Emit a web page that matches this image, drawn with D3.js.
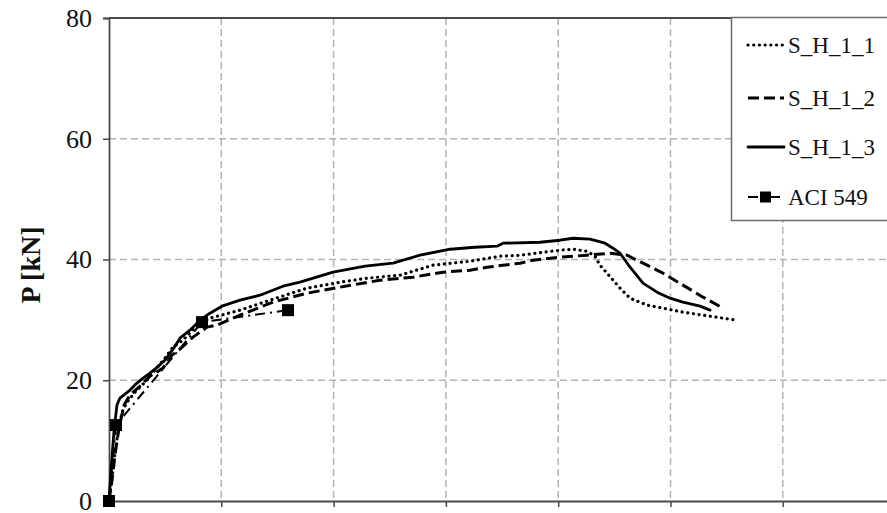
<!DOCTYPE html>
<html><head><meta charset="utf-8">
<script src="https://cdn.jsdelivr.net/npm/d3@7"></script>
<style>body{margin:0;background:#fff}svg{display:block}</style>
</head><body>
<svg id="c" width="887" height="513"></svg>
<script>
// deflection (mm) vs load P (kN)
const yTicks = [0, 20, 40, 60, 80];
const xTicks = [0, 10, 20, 30, 40, 50, 60, 70];
const seriesNames = ["S_H_1_1", "S_H_1_2", "S_H_1_3", "ACI 549"];

const s1x = [0,0.18,0.45,0.80,1.16,1.60,2.32,3.21,4.10,4.99,5.70,6.59,7.84,8.99,11.67,14.34,17.63,20.57,22.97,25.91,28.85,32.15,34.82,36.60,40.16,41.32,42.56,43.28,43.72,44.35,45.51,46.40,47.91,49.33,51.11,52.90,54.68,55.92];
const s1y = [0,2.65,6.79,11.42,14.73,16.38,18.04,19.69,21.68,23.67,25.49,26.64,29.13,30.28,31.61,33.26,35.25,36.24,36.90,37.40,39.06,39.72,40.54,40.71,41.54,41.70,41.37,40.54,39.06,37.73,35.25,33.59,32.44,31.94,31.28,30.78,30.28,29.95];

const s2x = [0,0.27,0.53,0.89,1.34,1.87,2.76,3.65,4.81,5.61,6.32,7.48,8.73,9.62,11.67,14.60,17.63,20.57,24.13,27.07,29.74,32.15,33.66,36.60,37.76,40.16,42.56,44.61,46.13,47.55,49.33,51.11,52.90,54.68];
const s2y = [0,3.48,7.61,12.08,15.89,17.54,19.03,20.69,22.01,24.16,25.15,27.14,28.80,29.13,30.78,32.93,34.42,35.42,36.57,37.07,37.90,38.23,38.72,39.39,39.88,40.38,40.71,41.04,40.71,39.39,37.73,35.75,33.76,31.94];

const s3x = [0,0.18,0.45,0.71,0.98,1.42,1.87,2.49,3.03,3.65,4.19,4.99,5.70,6.32,7.21,8.10,8.99,10.06,11.67,13.45,15.50,17.01,19.95,22.80,25.29,27.69,30.37,32.59,34.55,35.09,38.38,40.16,41.32,42.83,44.17,44.88,45.51,46.40,47.55,48.80,49.96,51.11,52.63,53.52];
const s3y = [0,5.13,11.75,15.89,17.05,17.71,18.37,19.53,20.36,21.18,22.01,23.33,25.15,26.97,28.30,29.95,31.11,32.27,33.26,34.09,35.58,36.24,37.90,38.89,39.39,40.71,41.70,42.03,42.20,42.70,42.86,43.19,43.52,43.36,42.70,41.87,41.04,38.72,36.08,34.59,33.59,32.93,32.27,31.61];

const acix = [0, 0.62, 8.28, 15.94];
const aciy = [0, 12.58, 29.62, 31.61];

const svg = d3.select("#c");
const x = d3.scaleLinear().domain([0, 70]).range([109, 109 + 7 * 112.3]);
const y = d3.scaleLinear().domain([0, 80]).range([501, 18]);

const gridCol = "#b3b3b3";
// grid
svg.append("g").selectAll("line").data(yTicks.filter(d => d > 0 && d < 80)).join("line")
  .attr("x1", 109).attr("x2", 887).attr("y1", d => y(d)).attr("y2", d => y(d))
  .attr("stroke", gridCol).attr("stroke-width", 1.5).attr("stroke-dasharray", "7,4");
svg.append("g").selectAll("line").data(xTicks.filter(d => d > 0)).join("line")
  .attr("y1", 18).attr("y2", 501).attr("x1", d => x(d)).attr("x2", d => x(d))
  .attr("stroke", gridCol).attr("stroke-width", 1.5).attr("stroke-dasharray", "7,4");

// axes
const axCol = "#4a4a4a";
const yAxis = svg.append("g").attr("transform", "translate(109,0)")
  .call(d3.axisLeft(y).tickValues(yTicks).tickSize(6).tickPadding(11));
yAxis.select(".domain").attr("stroke", axCol).attr("stroke-width", 1.8);
yAxis.selectAll(".tick line").attr("stroke", axCol).attr("stroke-width", 1.5);
yAxis.selectAll("text").attr("font-family", "Liberation Serif, serif").attr("font-size", 26).attr("fill", "#111");

const xAxis = svg.append("g").attr("transform", "translate(0,501)")
  .call(d3.axisBottom(x).tickValues(xTicks).tickSize(6).tickFormat(""));
xAxis.select(".domain").attr("stroke", axCol).attr("stroke-width", 1.8);
xAxis.selectAll(".tick line").attr("stroke", axCol).attr("stroke-width", 1.5);

// top border
svg.append("line").attr("x1", 109).attr("x2", 887).attr("y1", y(80)).attr("y2", y(80))
  .attr("stroke", axCol).attr("stroke-width", 1.8);

// y label
svg.append("text").attr("transform", "translate(40,265) rotate(-90)")
  .attr("text-anchor", "middle").attr("font-family", "Liberation Serif, serif")
  .attr("font-size", 28).attr("font-weight", "bold").attr("fill", "#111").text("P [kN]");

const line = d3.line().x(d => x(d[0])).y(d => y(d[1]));
const styles = [
  {dash: "0.1,5.6", w: 3.2, cap: "round"},
  {dash: "11,5", w: 3, cap: "butt"},
  {dash: null, w: 2.8, cap: "round"},
  {dash: "10,5,2,5", w: 2, cap: "butt"}
];
const data = [
  d3.zip(s1x, s1y), d3.zip(s2x, s2y), d3.zip(s3x, s3y), d3.zip(acix, aciy)
];
const plot = svg.append("g");
data.forEach((d, i) => {
  plot.append("path").datum(d).attr("d", line).attr("fill", "none")
    .attr("stroke", "#000").attr("stroke-width", styles[i].w)
    .attr("stroke-linecap", styles[i].cap).attr("stroke-linejoin", "round")
    .attr("stroke-dasharray", styles[i].dash);
});
plot.selectAll("rect.m").data(data[3]).join("rect").attr("class", "m")
  .attr("x", d => x(d[0]) - 6).attr("y", d => y(d[1]) - 6)
  .attr("width", 12).attr("height", 12).attr("fill", "#000");

// legend
const lg = svg.append("g");
lg.append("rect").attr("x", 731.5).attr("y", 17.5).attr("width", 200).attr("height", 203)
  .attr("fill", "#fff").attr("stroke", "#6a6a6a").attr("stroke-width", 1.5);
const ly = [45, 98, 147, 197];
seriesNames.forEach((n, i) => {
  const g = lg.append("g");
  g.append("line").attr("x1", 748).attr("x2", 784).attr("y1", ly[i]).attr("y2", ly[i])
    .attr("stroke", "#000").attr("stroke-width", styles[i].w)
    .attr("stroke-linecap", styles[i].cap).attr("stroke-dasharray", styles[i].dash);
  if (i === 3) g.append("rect").attr("x", 760).attr("y", ly[i] - 5.5).attr("width", 11).attr("height", 11).attr("fill", "#000");
  g.append("text").attr("x", 788).attr("y", ly[i] + 8).attr("font-family", "Liberation Serif, serif")
    .attr("font-size", 23).attr("fill", "#111").text(n);
});
</script>
</body></html>
